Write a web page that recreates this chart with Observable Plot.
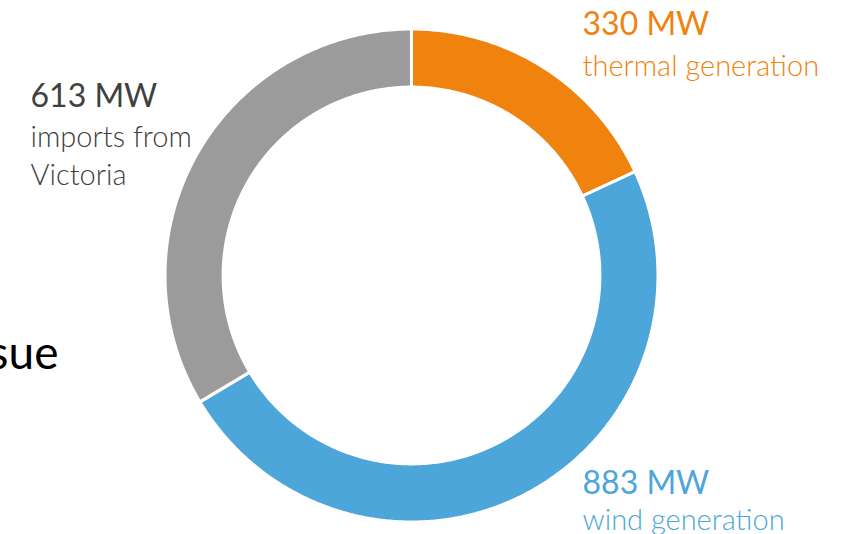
<!DOCTYPE html>
<html>
<head>
<meta charset="utf-8">
<script src="https://cdn.jsdelivr.net/npm/d3@7"></script>
<script src="https://cdn.jsdelivr.net/npm/@observablehq/plot@0.6"></script>
<style>
  html, body { margin: 0; padding: 0; background: #fff; }
  svg { display: block; }
</style>
</head>
<body>
<div id="chart"></div>
<script>
// ---- data ----
const sources = ["thermal generation", "wind generation", "imports from\nVictoria"];
const megawatts = [330, 883, 613];
const valueLabels = ["330 MW", "883 MW", "613 MW"];
const headingText = "Issue";

// ---- style / layout (kept separate from data) ----
const colors = ["#F0820E", "#4DA6D9", "#9B9B9B"];
const textColors = ["#F0820E", "#4DA6D9", "#404040"];
const outerRatio = 1.006;
const innerRatio = 0.769;
// label anchor positions in chart units (1 = outer radius)
const labelPos = [
  {x: 0.698, yValue: 0.980, yName: 0.816},
  {x: 0.698, yValue: -0.890, yName: -1.037},
  {x: -1.555, yValue: 0.686, yName: 0.371}
];
const headingPos = {x: -1.441, y: -0.380};

const W = 841, H = 534, R = 245, CX = 411, CY = 275;

const pie = d3.pie().sort(null).startAngle(0).endAngle(2 * Math.PI)(megawatts);

// build slice polygons in chart units from pie angles
const slices = pie.map((p, i) => {
  const pts = [];
  const n = Math.max(8, Math.ceil((p.endAngle - p.startAngle) / (Math.PI / 360)));
  for (let k = 0; k <= n; k++) {
    const a = p.startAngle + (p.endAngle - p.startAngle) * k / n;
    pts.push({x: outerRatio * Math.sin(a), y: outerRatio * Math.cos(a)});
  }
  for (let k = n; k >= 0; k--) {
    const a = p.startAngle + (p.endAngle - p.startAngle) * k / n;
    pts.push({x: innerRatio * Math.sin(a), y: innerRatio * Math.cos(a)});
  }
  pts.push(pts[0]);
  return pts;
});

const valueRows = valueLabels.map((t, i) => ({text: t, x: labelPos[i].x, y: labelPos[i].yValue, i}));
const nameRows = sources.map((t, i) => ({text: t, x: labelPos[i].x, y: labelPos[i].yName, i}));

const font = "Lato, 'Open Sans', sans-serif";

const plot = Plot.plot({
  width: W,
  height: H,
  margin: 0,
  style: {fontFamily: font, background: "white"},
  x: {domain: [-CX / R, (W - CX) / R], range: [0, W], axis: null},
  y: {domain: [-(H - CY) / R, CY / R], range: [H, 0], axis: null},
  marks: [
    ...slices.map((pts, i) => Plot.line(pts, {
      x: "x", y: "y", fill: colors[i], stroke: "white", strokeWidth: 3,
      strokeLinejoin: "miter", curve: "linear"
    })),
    Plot.text(valueRows, {
      x: "x", y: "y", text: "text", textAnchor: "start", lineAnchor: "bottom",
      fill: d => textColors[d.i], fontSize: 32, fontWeight: 400
    }),
    Plot.text(nameRows, {
      x: "x", y: "y", text: "text", textAnchor: "start", lineAnchor: "bottom",
      fill: d => textColors[d.i], fontSize: 29, fontWeight: 300, lineHeight: 1.28
    }),
    Plot.text([headingText], {
      x: headingPos.x, y: headingPos.y, text: d => d, textAnchor: "end", lineAnchor: "bottom",
      fill: "black", fontSize: 46
    })
  ]
});
document.getElementById("chart").appendChild(plot);
</script>
</body>
</html>
